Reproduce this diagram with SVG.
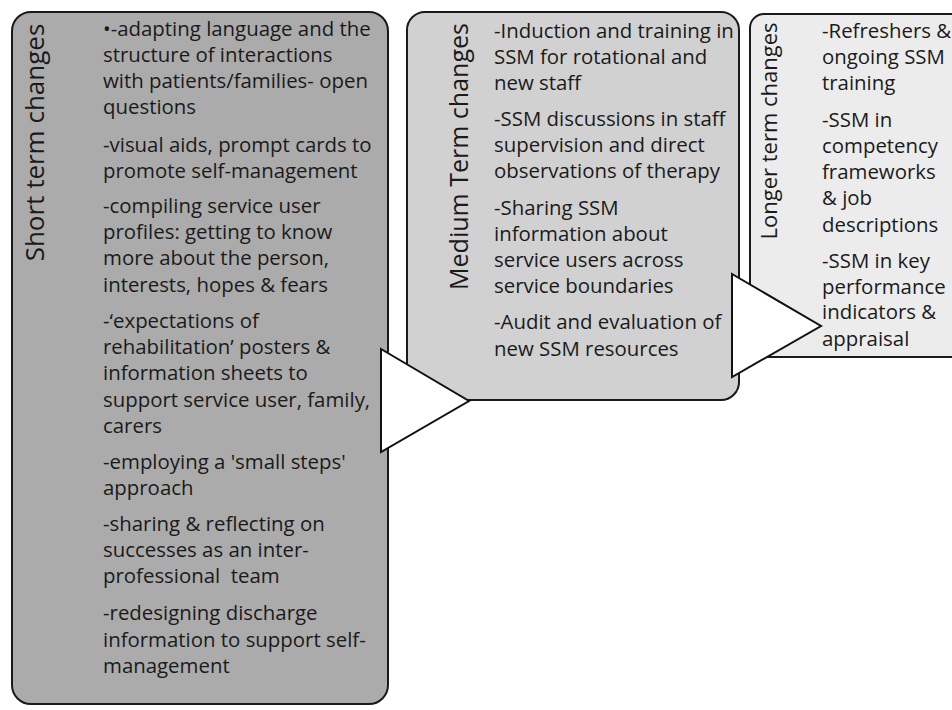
<svg xmlns="http://www.w3.org/2000/svg" width="952" height="710" viewBox="0 0 952 710">
<style>
.box{stroke:#1a1a1a;stroke-width:2}
.b1{fill:#ababab}
.b2{fill:#d1d1d1}
.b3{fill:#ececec}
.title{font-family:"Open Sans","Liberation Sans",sans-serif;fill:#1a1a1a;text-anchor:middle}
.body{font-family:"Open Sans","Liberation Sans",sans-serif;font-size:20.4px;fill:#1a1a1a}
.arrow{fill:#ffffff;stroke:#111;stroke-width:2;stroke-linejoin:miter}
</style>
<rect width="952" height="710" fill="#ffffff"/>
<g id="node-short">
<rect class="box b1" x="12" y="12" width="376" height="692" rx="19" ry="19"/>
<text class="title" font-size="26" transform="translate(44,142.5) rotate(-90)">Short term changes</text>
<text class="body">
<tspan x="103" y="35.5">•-adapting language and the</tspan>
<tspan x="103" y="61.7">structure of interactions</tspan>
<tspan x="103" y="87.9">with patients/families- open</tspan>
<tspan x="103" y="114.1">questions</tspan>
<tspan x="103" y="151.5">-visual aids, prompt cards to</tspan>
<tspan x="103" y="177.5">promote self-management</tspan>
<tspan x="103" y="213.2">-compiling service user</tspan>
<tspan x="103" y="239.2">profiles: getting to know</tspan>
<tspan x="103" y="265.4">more about the person,</tspan>
<tspan x="103" y="291.8">interests, hopes &amp; fears</tspan>
<tspan x="103" y="327.5">-‘expectations of</tspan>
<tspan x="103" y="353.7">rehabilitation’ posters &amp;</tspan>
<tspan x="103" y="380.2">information sheets to</tspan>
<tspan x="103" y="406.6">support service user, family,</tspan>
<tspan x="103" y="432.6">carers</tspan>
<tspan x="103" y="468.5">-employing a 'small steps'</tspan>
<tspan x="103" y="495">approach</tspan>
<tspan x="103" y="530.9">-sharing &amp; reflecting on</tspan>
<tspan x="103" y="557.2">successes as an inter-</tspan>
<tspan x="103" y="583.4">professional&#160; team</tspan>
<tspan x="103" y="620.3">-redesigning discharge</tspan>
<tspan x="103" y="646.8">information to support self-</tspan>
<tspan x="103" y="672.6">management</tspan>
</text>
</g>
<g id="node-medium">
<rect class="box b2" x="407" y="12" width="332" height="388" rx="18" ry="18"/>
<text class="title" font-size="25" transform="translate(468,156.5) rotate(-90)">Medium Term changes</text>
<text class="body">
<tspan x="494" y="37.5">-Induction and training in</tspan>
<tspan x="494" y="63.5">SSM for rotational and</tspan>
<tspan x="494" y="89.5">new staff</tspan>
<tspan x="494" y="125.5">-SSM discussions in staff</tspan>
<tspan x="494" y="151.5">supervision and direct</tspan>
<tspan x="494" y="177.5">observations of therapy</tspan>
<tspan x="494" y="214.5">-Sharing SSM</tspan>
<tspan x="494" y="240.5">information about</tspan>
<tspan x="494" y="266.5">service users across</tspan>
<tspan x="494" y="292.5">service boundaries</tspan>
<tspan x="494" y="328.5">-Audit and evaluation of</tspan>
<tspan x="494" y="355.5">new SSM resources</tspan>
</text>
</g>
<g id="node-longer">
<rect class="box b3" x="750" y="14" width="240" height="343" rx="14" ry="14"/>
<text class="title" font-size="22" transform="translate(777,131) rotate(-90)">Longer term changes</text>
<text class="body">
<tspan x="822" y="37.5">-Refreshers &amp;</tspan>
<tspan x="822" y="63.5">ongoing SSM</tspan>
<tspan x="822" y="90">training</tspan>
<tspan x="822" y="126.5">-SSM in</tspan>
<tspan x="822" y="152.5">competency</tspan>
<tspan x="822" y="178.5">frameworks</tspan>
<tspan x="822" y="205">&amp; job</tspan>
<tspan x="822" y="232">descriptions</tspan>
<tspan x="822" y="268">-SSM in key</tspan>
<tspan x="822" y="293.5">performance</tspan>
<tspan x="822" y="319">indicators &amp;</tspan>
<tspan x="822" y="345.5">appraisal</tspan>
</text>
</g>
<g id="connectors">
<polygon class="arrow" points="381,349 469,401 381,452"/>
<polygon class="arrow" points="732,274 821,326 732,377"/>
</g>
</svg>
